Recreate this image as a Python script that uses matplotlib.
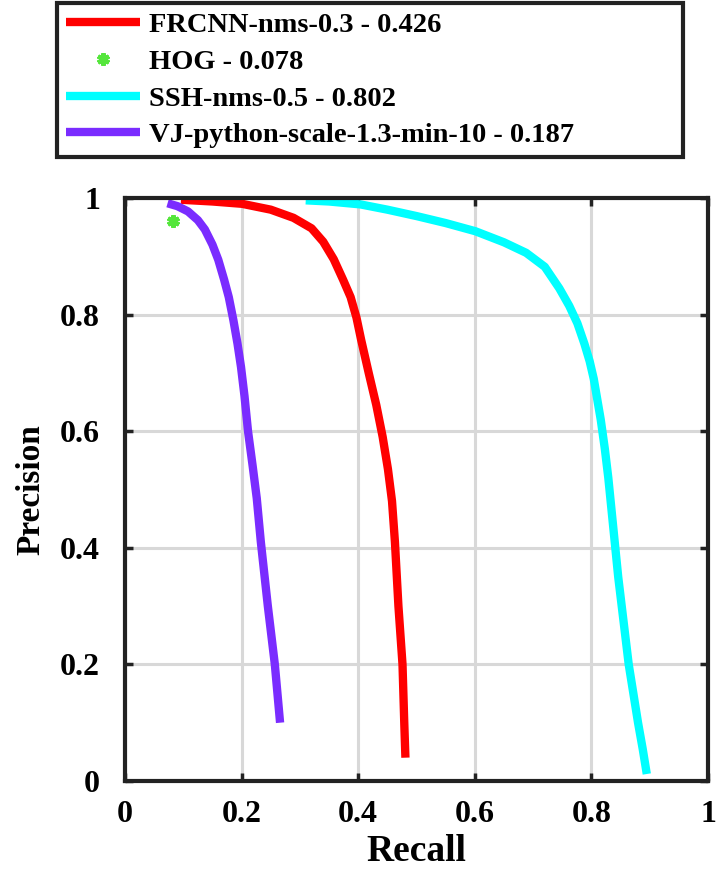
import matplotlib
matplotlib.use("Agg")
import matplotlib.pyplot as plt

plt.rcParams['font.family'] = ['Liberation Serif', 'DejaVu Serif']
plt.rcParams['font.weight'] = 'bold'

# precision / recall curves
frcnn_recall = [0.096, 0.15, 0.201, 0.25, 0.289, 0.32, 0.34, 0.358, 0.374, 0.387,
                0.397, 0.405, 0.418, 0.431, 0.442, 0.451, 0.458, 0.463, 0.469,
                0.476, 0.479, 0.481]
frcnn_prec = [0.997, 0.994, 0.99, 0.98, 0.966, 0.948, 0.925, 0.895, 0.86, 0.83,
              0.795, 0.757, 0.70, 0.645, 0.59, 0.535, 0.48, 0.41, 0.30,
              0.2, 0.10, 0.04]

hog_recall = [0.082]
hog_prec = [0.96]

ssh_recall = [0.31, 0.35, 0.404, 0.45, 0.50, 0.55, 0.601, 0.65, 0.688, 0.72, 0.745,
              0.762, 0.776, 0.788, 0.797, 0.804, 0.81, 0.816, 0.823, 0.829, 0.835,
              0.841, 0.846, 0.852, 0.858, 0.864, 0.872, 0.88, 0.888, 0.895]
ssh_prec = [0.996, 0.994, 0.989, 0.98, 0.969, 0.957, 0.943, 0.924, 0.906, 0.882, 0.845,
            0.815, 0.785, 0.75, 0.72, 0.69, 0.655, 0.62, 0.57, 0.52, 0.46,
            0.40, 0.35, 0.30, 0.25, 0.20, 0.15, 0.10, 0.055, 0.012]

vj_recall = [0.073, 0.09, 0.108, 0.125, 0.137, 0.15, 0.16, 0.17, 0.178, 0.186, 0.193,
             0.199, 0.205, 0.211, 0.219, 0.226, 0.233, 0.245, 0.257, 0.266]
vj_prec = [0.991, 0.986, 0.977, 0.962, 0.946, 0.92, 0.894, 0.86, 0.83, 0.79, 0.75,
           0.71, 0.66, 0.6, 0.54, 0.485, 0.41, 0.30, 0.2, 0.10]

labels = ['FRCNN-nms-0.3 - 0.426', 'HOG - 0.078', 'SSH-nms-0.5 - 0.802',
          'VJ-python-scale-1.3-min-10 - 0.187']
ticks = [0, 0.2, 0.4, 0.6, 0.8, 1]
tick_labels = ['0', '0.2', '0.4', '0.6', '0.8', '1']

fig = plt.figure(figsize=(7.17, 8.75), dpi=100)
ax = fig.add_axes([125 / 717, 94 / 875, 583 / 717, 583 / 875])

h1, = ax.plot(frcnn_recall, frcnn_prec, color='#ff0000', lw=6, solid_capstyle='butt')
h2, = ax.plot(hog_recall, hog_prec, ls='none', marker=(6, 2, 0), ms=9, mew=3,
              color='#55e63c')
h3, = ax.plot(ssh_recall, ssh_prec, color='#00ffff', lw=6, solid_capstyle='butt')
h4, = ax.plot(vj_recall, vj_prec, color='#7a2cff', lw=6, solid_capstyle='butt')

ax.set_xlim(0, 1)
ax.set_ylim(0, 1)
ax.set_xticks(ticks)
ax.set_yticks(ticks)
ax.set_xticklabels(tick_labels)
ax.set_yticklabels(tick_labels)
ax.tick_params(direction='in', length=6, width=2.5, labelsize=23,
               top=True, right=True, color='#222222')
ax.tick_params(axis='x', pad=14)
ax.tick_params(axis='y', pad=18)
ax.grid(True, color='#d8d8d8', lw=2.2)
ax.set_axisbelow(True)
for sp in ax.spines.values():
    sp.set_linewidth(3)
    sp.set_color('#222222')

ax.set_xlabel('Recall', fontsize=27, fontweight='bold', labelpad=3)
ax.set_ylabel('Precision', fontsize=24, fontweight='bold', labelpad=10)

leg = fig.legend([h1, h2, h3, h4], labels, loc='upper left',
                 bbox_to_anchor=(57 / 717, 1 - 3 / 875, 626 / 717, 0), mode='expand',
                 borderaxespad=0, prop={'weight': 'bold', 'size': 20.5},
                 handlelength=2.6, handletextpad=0.3, labelspacing=0.38,
                 borderpad=0.32, fancybox=False, framealpha=1)
leg.get_frame().set_edgecolor('#222222')
leg.get_frame().set_linewidth(3)

fig.savefig('out.png', dpi=100)
